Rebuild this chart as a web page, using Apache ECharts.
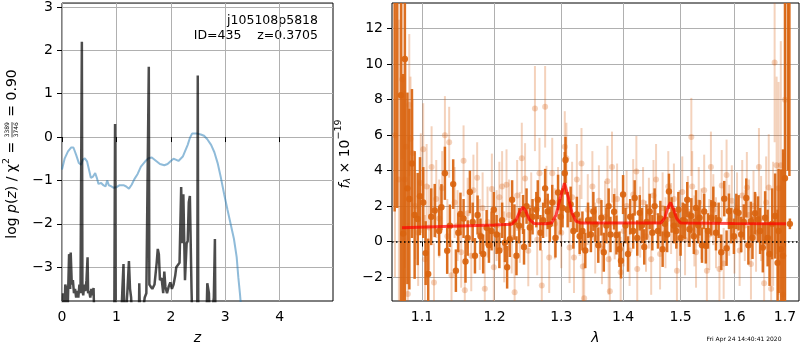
<!DOCTYPE html>
<html>
<head>
<meta charset="utf-8">
<script src="https://cdn.jsdelivr.net/npm/echarts@6/dist/echarts.min.js"></script>
<style>
html, body { margin: 0; padding: 0; background: #fff; }
#main { width: 800px; height: 350px; }
</style>
</head>
<body>
<div id="main"></div>
<script>
// tick positions
var pzTicksX = [0, 1, 2, 3, 4];
var pzTicksY = [-3, -2, -1, 0, 1, 2, 3];
var specTicksX = [1.1, 1.2, 1.3, 1.4, 1.5, 1.6, 1.7];
var specTicksY = [-2, 0, 2, 4, 6, 8, 10, 12];

// left panel: chi2 curve (blue) and log p(z) (dark), [z, value]
var chi2Curve = [
  [0.00, -0.75], [0.05, -0.49], [0.11, -0.33], [0.17, -0.24], [0.21, -0.24], [0.26, -0.41],
  [0.31, -0.60], [0.35, -0.64], [0.38, -0.53], [0.42, -0.49], [0.46, -0.56], [0.49, -0.72],
  [0.53, -0.94], [0.57, -0.91], [0.61, -0.83], [0.64, -0.94], [0.67, -1.08], [0.72, -1.06],
  [0.76, -1.11], [0.80, -1.14], [0.83, -1.00], [0.86, -1.11], [0.90, -1.13], [0.95, -1.17],
  [1.01, -1.15], [1.06, -1.11], [1.13, -1.11], [1.18, -1.14], [1.23, -1.19], [1.28, -1.10],
  [1.33, -0.97], [1.39, -0.85], [1.45, -0.68], [1.53, -0.56], [1.59, -0.49], [1.65, -0.47],
  [1.73, -0.55], [1.80, -0.62], [1.88, -0.65], [1.94, -0.62], [2.00, -0.55], [2.05, -0.50],
  [2.09, -0.52], [2.14, -0.55], [2.17, -0.51], [2.22, -0.45], [2.26, -0.33], [2.31, -0.18],
  [2.35, -0.02], [2.39, 0.08], [2.43, 0.08], [2.49, 0.08], [2.55, 0.06], [2.61, 0.03],
  [2.67, -0.05], [2.74, -0.18], [2.80, -0.35], [2.86, -0.60], [2.92, -0.94], [2.98, -1.32],
  [3.04, -1.67], [3.10, -2.01], [3.16, -2.35], [3.21, -2.77], [3.24, -3.23], [3.27, -3.61],
  [3.29, -3.91]
];
var pzCurve = [
  [0.00, -4.5], [0.02, -3.6], [0.04, -4.5], [0.06, -3.4], [0.08, -3.5], [0.09, -4.5],
  [0.11, -3.7], [0.13, -2.7], [0.14, -2.75], [0.15, -3.5], [0.16, -2.66], [0.18, -3.4],
  [0.20, -3.3], [0.22, -3.6], [0.24, -3.5], [0.26, -3.7], [0.28, -3.55], [0.30, -3.7],
  [0.32, -3.4], [0.34, -3.6], [0.355, -3.6], [0.365, 2.2], [0.375, -3.5], [0.39, -3.65],
  [0.41, -3.4], [0.43, -3.55], [0.45, -3.3], [0.47, -2.77], [0.48, -3.6], [0.50, -3.55],
  [0.52, -3.7], [0.54, -3.5], [0.56, -3.65], [0.58, -3.48], [0.60, -4.5], [0.96, -4.5],
  [0.975, 0.3], [0.985, -4.5], [1.08, -4.5], [1.11, -3.5], [1.13, -2.93], [1.15, -4.5],
  [1.20, -3.6], [1.23, -2.86], [1.25, -3.5], [1.27, -3.7], [1.30, -4.5], [1.41, -4.5],
  [1.42, -3.37], [1.44, -4.5], [1.52, -3.7], [1.55, -3.6], [1.585, -3.6], [1.595, 1.62],
  [1.605, -3.4], [1.63, -3.45], [1.66, -3.5], [1.70, -3.4], [1.74, -2.9], [1.76, -2.58],
  [1.78, -2.7], [1.80, -3.3], [1.83, -3.25], [1.86, -3.6], [1.88, -3.1], [1.90, -3.45],
  [1.93, -3.6], [1.96, -3.45], [1.99, -3.35], [2.02, -3.5], [2.05, -3.4], [2.08, -3.2],
  [2.10, -3.0], [2.13, -2.95], [2.16, -2.9], [2.19, -1.15], [2.21, -2.45], [2.23, -1.32],
  [2.26, -3.3], [2.29, -2.45], [2.31, -2.4], [2.33, -1.5], [2.35, -1.36], [2.38, -3.5],
  [2.40, -4.5], [2.485, -4.5], [2.495, 1.42], [2.505, -4.5], [2.65, -4.5], [2.67, -3.37],
  [2.70, -3.6], [2.72, -4.5], [2.79, -3.7], [2.81, -2.35], [2.82, -4.5]
];

// right panel: best-fit model, [lambda, flux]
var modelLine = [
  [1.074, 0.78], [1.14, 0.86], [1.20, 0.93], [1.225, 0.98], [1.232, 1.25], [1.237, 1.7],
  [1.2415, 1.95], [1.246, 1.7], [1.251, 1.25], [1.258, 1.02], [1.275, 1.0], [1.285, 1.05],
  [1.292, 1.5], [1.298, 2.4], [1.305, 3.3], [1.311, 2.5], [1.317, 1.6], [1.323, 1.15],
  [1.33, 1.05], [1.40, 1.05], [1.465, 1.05], [1.472, 1.35], [1.477, 1.9], [1.482, 2.2],
  [1.487, 1.85], [1.493, 1.3], [1.50, 1.05], [1.60, 1.02], [1.702, 1.0]
];

// spectrum points with errors, [lambda, flux, err]
var specDark = [
  [1.0646, 15.0, 13.3], [1.0679, 16.0, 14.1], [1.0727, 8.25, 12.0], [1.0755, 0.45, 9.0],
  [1.0777, 10.3, 14.0], [1.0810, 3.0, 5.4], [1.0835, 2.4, 5.1], [1.0869, 4.4, 4.2],
  [1.0904, 1.5, 3.6], [1.0944, 1.27, 2.6], [1.0974, 2.56, 2.2], [1.1017, 2.2, 2.0],
  [1.1049, -0.65, 1.8], [1.1083, -1.83, 2.0], [1.1123, 1.4, 1.6], [1.1170, 1.75, 1.5],
  [1.1229, 0.6, 1.4], [1.1260, 1.94, 1.3], [1.1307, 3.85, 1.5], [1.1338, -0.52, 1.3],
  [1.1375, 0.89, 1.2], [1.1420, 3.24, 1.4], [1.1457, -1.64, 1.2], [1.1490, 0.5, 1.1],
  [1.1520, 1.56, 1.2], [1.1563, 1.3, 1.1], [1.1590, -1.12, 1.2], [1.1620, 0.2, 1.0],
  [1.1651, 2.8, 1.2], [1.1690, 1.1, 1.1], [1.1722, -0.8, 1.0], [1.1759, 1.5, 1.1],
  [1.1800, 0.3, 1.0], [1.1838, -0.7, 1.1], [1.1887, 0.78, 1.0], [1.1920, -0.2, 1.0],
  [1.1958, 0.6, 1.1], [1.1990, 1.8, 1.0], [1.2030, 0.4, 1.1], [1.2070, -0.5, 1.0],
  [1.2110, 1.2, 1.0], [1.2150, -0.06, 1.1], [1.2183, -1.45, 1.2], [1.2222, 0.13, 1.0],
  [1.2256, 2.36, 1.1], [1.2290, 1.1, 1.0], [1.2320, -0.8, 1.1], [1.2360, 0.9, 1.0],
  [1.2418, 1.53, 1.1], [1.2432, -0.3, 1.0], [1.2470, 2.0, 1.0], [1.2519, 0.8, 1.1],
  [1.2560, 1.4, 1.0], [1.2617, 1.8, 1.0], [1.2639, 2.36, 1.1], [1.2679, 0.5, 1.0],
  [1.2720, 1.2, 1.0], [1.2751, 3.0, 1.1], [1.2790, 1.7, 1.0], [1.2823, 0.97, 1.0],
  [1.2860, 2.2, 1.0], [1.2910, 0.2, 1.1], [1.2950, 2.77, 1.0], [1.2990, 1.4, 1.0],
  [1.3020, 1.9, 1.1], [1.3055, 3.85, 1.2], [1.3066, 4.6, 1.3], [1.3100, 1.8, 1.0],
  [1.3147, 2.1, 1.0], [1.3190, 0.6, 1.0], [1.3245, 1.53, 1.0], [1.3290, 0.3, 1.0],
  [1.3334, 0.6, 1.1], [1.3380, -0.5, 1.0], [1.3424, 1.2, 1.0], [1.3470, 0.4, 1.0],
  [1.3510, 1.7, 1.1], [1.3544, 0.97, 1.0], [1.3590, -0.2, 1.0], [1.3641, 1.34, 1.0],
  [1.3680, -0.6, 1.1], [1.3723, 0.9, 1.0], [1.3760, 2.0, 1.0], [1.3790, 0.4, 1.0],
  [1.3850, 1.68, 1.0], [1.3889, 0.37, 1.1], [1.3940, -0.43, 1.0], [1.3965, -1.08, 1.0],
  [1.4000, 2.65, 1.1], [1.4040, 0.9, 1.0], [1.4083, -0.7, 1.0], [1.4120, 1.4, 1.0],
  [1.4171, 0.6, 1.0], [1.4196, 2.46, 1.0], [1.4240, 0.2, 1.0], [1.4283, 1.62, 1.0],
  [1.4320, 0.9, 1.0], [1.4360, -0.3, 1.0], [1.4400, 1.1, 1.0], [1.4454, 1.7, 1.0],
  [1.4500, 0.5, 1.0], [1.4540, 2.0, 1.0], [1.4598, 0.6, 1.0], [1.4640, 1.3, 1.0],
  [1.4680, -0.43, 1.0], [1.4720, 1.0, 1.0], [1.4760, 0.4, 1.0], [1.4792, 2.83, 1.0],
  [1.4840, 1.5, 1.0], [1.4880, 0.9, 1.0], [1.4923, 0.6, 1.0], [1.4960, 1.8, 1.0],
  [1.5000, 0.2, 1.0], [1.5040, 1.2, 1.0], [1.5080, 1.15, 1.0], [1.5120, 2.36, 1.0],
  [1.5160, 0.7, 1.0], [1.5194, 1.45, 1.0], [1.5240, 0.3, 1.0], [1.5280, 1.9, 1.0],
  [1.5320, 0.9, 1.0], [1.5345, 1.34, 1.0], [1.5390, -0.2, 1.0], [1.5430, 1.7, 1.0],
  [1.5460, -0.24, 1.0], [1.5500, 0.6, 1.0], [1.5562, 1.34, 1.0], [1.5600, 2.1, 1.0],
  [1.5650, 0.5, 1.0], [1.5700, 1.2, 1.0], [1.5750, -0.6, 1.0], [1.5806, 2.42, 1.0],
  [1.5850, -0.37, 1.0], [1.5895, 1.71, 1.0], [1.5940, 0.9, 1.0], [1.5990, 0.3, 1.0],
  [1.6036, 1.7, 1.0], [1.6080, 1.62, 1.0], [1.6130, 0.4, 1.0], [1.6180, 1.1, 1.0],
  [1.6229, 2.46, 1.1], [1.6270, -0.2, 1.1], [1.6320, 1.15, 1.1], [1.6350, 0.22, 1.2],
  [1.6400, 1.6, 1.2], [1.6460, 1.25, 1.3], [1.6500, 0.6, 1.3], [1.6554, -0.34, 1.4],
  [1.6600, 1.34, 1.5], [1.6650, 0.2, 1.6], [1.6688, -0.7, 1.8], [1.6740, 1.0, 2.0],
  [1.6800, 1.44, 2.4], [1.6850, -1.2, 3.0], [1.6870, 0.6, 3.5], [1.6920, -0.43, 4.5],
  [1.6960, -0.8, 6.0], [1.7000, 3.57, 11.0], [1.7060, 15.0, 11.0], [1.7090, 16.0, 12.3],
  [1.7100, 1.0, 0.3]
];
var specLight = [
  [1.0650, 6.0, 8.0], [1.0700, 3.5, 9.0], [1.0743, 9.15, 4.5], [1.0777, 3.5, 5.0],
  [1.0790, 5.35, 5.0], [1.0815, -2.95, 4.0], [1.0834, 7.7, 4.0], [1.0850, 5.8, 3.5],
  [1.0878, 5.0, 3.0], [1.0910, 2.0, 3.0], [1.0950, 0.5, 3.0], [1.0985, 3.3, 2.8],
  [1.1017, 5.2, 2.6], [1.1040, -1.0, 2.5], [1.1062, 3.1, 2.4], [1.1095, 0.8, 2.4],
  [1.1128, 4.2, 2.3], [1.1160, -2.3, 2.2], [1.1190, 2.4, 2.2], [1.1230, 1.3, 2.2],
  [1.1270, 3.0, 2.1], [1.1307, 6.0, 2.2], [1.1340, 0.3, 2.1], [1.1365, 5.6, 2.0],
  [1.1397, -1.9, 2.0], [1.1440, 2.2, 2.0], [1.1480, 0.9, 2.0], [1.1530, -0.6, 2.0],
  [1.1563, 4.55, 2.0], [1.1580, -2.75, 2.0], [1.1620, 1.6, 2.0], [1.1670, -0.8, 2.0],
  [1.1700, 2.9, 2.0], [1.1753, 3.6, 2.0], [1.1790, 0.4, 2.0], [1.1830, 1.9, 2.0],
  [1.1861, -2.66, 2.0], [1.1900, 1.1, 2.0], [1.1962, 2.96, 2.0], [1.1990, -1.45, 2.0],
  [1.2030, 0.9, 2.0], [1.2070, 2.5, 2.0], [1.2110, 3.1, 2.0], [1.2140, -0.3, 2.0],
  [1.2174, 3.2, 2.0], [1.2210, 1.5, 2.0], [1.2250, 0.2, 2.0], [1.2293, -2.85, 2.0],
  [1.2330, 2.6, 2.0], [1.2370, 0.8, 2.0], [1.2399, 4.7, 2.0], [1.2448, 3.55, 2.0],
  [1.2496, -0.52, 2.0], [1.2540, 1.9, 2.0], [1.2596, 7.5, 2.4], [1.2630, 0.1, 2.0],
  [1.2665, 3.85, 2.0], [1.2700, -2.47, 2.0], [1.2751, 7.6, 2.3], [1.2771, 2.27, 2.0],
  [1.2813, -0.9, 2.0], [1.2860, 3.85, 2.0], [1.2900, 1.0, 2.0], [1.2950, 2.2, 2.0],
  [1.3000, 0.5, 2.0], [1.3055, 5.35, 2.0], [1.3080, 4.7, 2.0], [1.3130, -0.34, 2.0],
  [1.3170, 2.5, 2.0], [1.3200, -0.9, 2.0], [1.3245, 3.5, 2.0], [1.3290, 1.2, 2.0],
  [1.3319, 4.4, 2.0], [1.3340, -1.41, 2.0], [1.3362, -3.2, 2.0], [1.3420, 1.8, 2.0],
  [1.3494, 3.1, 2.0], [1.3540, 0.2, 2.0], [1.3600, 2.3, 2.0], [1.3650, -0.4, 2.0],
  [1.3700, 1.4, 2.0], [1.3740, 3.4, 2.0], [1.3760, -0.99, 2.0], [1.3780, -2.8, 2.0],
  [1.3815, 4.2, 2.0], [1.3860, 1.0, 2.0], [1.3900, 2.4, 2.0], [1.3960, -1.73, 2.0],
  [1.4010, 0.6, 2.0], [1.4060, 2.0, 2.0], [1.4110, -0.5, 2.0], [1.4171, 2.65, 2.0],
  [1.4225, 3.95, 2.0], [1.4240, -1.55, 2.0], [1.4290, 1.1, 2.0], [1.4340, 2.2, 2.0],
  [1.4390, 0.3, 2.0], [1.4440, 1.6, 2.0], [1.4480, -1.0, 2.0], [1.4520, 2.6, 2.0],
  [1.4565, 3.5, 2.0], [1.4635, -0.7, 2.0], [1.4680, 1.9, 2.0], [1.4730, 0.5, 2.0],
  [1.4780, 3.1, 2.0], [1.4830, 1.3, 2.0], [1.4880, 2.4, 2.0], [1.4934, -1.64, 2.0],
  [1.4980, 0.9, 2.0], [1.5030, 2.8, 2.0], [1.5080, 0.1, 2.0], [1.5130, 1.7, 2.0],
  [1.5194, 5.9, 2.2], [1.5210, 3.1, 2.0], [1.5250, 0.6, 2.0], [1.5280, -0.6, 2.0],
  [1.5330, 2.2, 2.0], [1.5380, 1.0, 2.0], [1.5430, 2.9, 2.0], [1.5480, -1.64, 2.0],
  [1.5525, 0.4, 2.0], [1.5555, 4.2, 2.0], [1.5600, 1.8, 2.0], [1.5650, 0.5, 2.0],
  [1.5715, -1.55, 2.0], [1.5758, 3.16, 2.0], [1.5795, -1.23, 2.0], [1.5850, 3.75, 2.0],
  [1.5900, 1.2, 2.0], [1.5950, 2.3, 2.0], [1.6000, 0.2, 2.0], [1.6050, 1.9, 2.0],
  [1.6100, -0.5, 2.0], [1.6150, 2.6, 2.0], [1.6200, 0.9, 2.0], [1.6240, 3.05, 2.0],
  [1.6280, 1.5, 2.0], [1.6320, -1.27, 2.0], [1.6370, 2.0, 2.0], [1.6420, 0.5, 2.2],
  [1.6477, 4.2, 2.2], [1.6520, 1.3, 2.4], [1.6580, -2.35, 2.5], [1.6620, 2.2, 2.6],
  [1.6672, 3.05, 3.0], [1.6720, -2.66, 3.0], [1.6760, 1.0, 3.5], [1.6790, 10.1, 4.5],
  [1.6830, 4.3, 5.0], [1.6870, 3.0, 6.0], [1.6915, 4.3, 7.0], [1.6960, -3.0, 8.0],
  [1.7000, 8.0, 9.0]
];

var chartDom = document.getElementById('main');
var myChart = echarts.init(chartDom, null, { renderer: 'canvas' });

var ctx = document.createElement('canvas').getContext('2d');
function textWidth(s, font) {
  ctx.font = font;
  return ctx.measureText(s).width;
}
var F14 = '14px "DejaVu Sans"';
var F14I = 'italic 14px "DejaVu Sans"';
var F9 = '9.5px "DejaVu Sans"';
var F9I = 'italic 9.5px "DejaVu Sans"';
var FFRAC = '6px "DejaVu Sans"';

function txt(s, font, x, y, align) {
  return {
    type: 'text', x: x, y: y, silent: true,
    style: { text: s, font: font, fill: '#000', align: align, verticalAlign: 'middle' }
  };
}

// rotated (bottom-to-top) axis label built from pieces
function rotLabel(cx, cy, parts) {
  var x = 0, kids = [];
  parts.forEach(function (p) {
    if (p.frac) {
      var w = Math.max(textWidth(p.frac[0], p.font), textWidth(p.frac[1], p.font));
      kids.push(txt(p.frac[0], p.font, x + w / 2, -4.5, 'center'));
      kids.push(txt(p.frac[1], p.font, x + w / 2, 4.5, 'center'));
      kids.push({ type: 'line', silent: true, shape: { x1: x, y1: 0, x2: x + w, y2: 0 }, style: { stroke: '#000', lineWidth: 0.7 } });
      x += w + 1;
    } else {
      kids.push(txt(p.t, p.font, x, p.dy || 0, 'left'));
      x += textWidth(p.t, p.font);
    }
  });
  return { type: 'group', x: cx, y: cy + x / 2, rotation: Math.PI / 2, children: kids };
}

function minusFmt(v) {
  return String(v).replace('-', '\u2212');
}

function makeAxis(o) {
  return {
    type: o.type || 'value',
    gridIndex: o.grid,
    min: o.min,
    max: o.max,
    name: o.name,
    nameLocation: 'middle',
    nameGap: o.nameGap,
    nameTextStyle: { fontFamily: 'DejaVu Sans', fontSize: 14, fontStyle: 'italic', color: '#000' },
    axisLine: { show: false },
    axisTick: { show: true, inside: false, length: 5, lineStyle: { color: '#000', width: 1 }, customValues: o.ticks },
    axisLabel: { color: '#000', fontSize: 14, fontFamily: 'DejaVu Sans', margin: o.margin, customValues: o.ticks, formatter: o.fmt },
    splitLine: { show: true, lineStyle: { color: '#b0b0b0', width: 1 } }
  };
}

function errRender(color, opacity, lw, r) {
  return function (params, api) {
    var x = api.value(0), y = api.value(1), e = api.value(2);
    var top = api.coord([x, y + e]);
    var bot = api.coord([x, y - e]);
    var mid = api.coord([x, y]);
    return {
      type: 'group',
      children: [
        { type: 'line', shape: { x1: top[0], y1: top[1], x2: bot[0], y2: bot[1] }, style: { stroke: color, lineWidth: lw, opacity: opacity } },
        { type: 'circle', shape: { cx: mid[0], cy: mid[1], r: r }, style: { fill: color, opacity: opacity } }
      ]
    };
  };
}

var leftLabel = rotLabel(12, 154, [
  { t: 'log ', font: F14 }, { t: 'p', font: F14I }, { t: '(', font: F14 }, { t: 'z', font: F14I },
  { t: ') / \u03c7', font: F14 }, { t: '2', font: F9, dy: -5 }, { t: ' = ', font: F14 },
  { frac: ['3389', '3746'], font: FFRAC }, { t: ' = 0.90', font: F14 }
]);
var rightLabel = rotLabel(345, 154, [
  { t: 'f', font: F14I }, { t: '\u03bb', font: F9I, dy: 3 }, { t: ' \u00d7 10', font: F14 },
  { t: '\u221219', font: F9, dy: -6 }
]);

var option = {
  animation: false,
  backgroundColor: '#fff',
  grid: [
    { left: 62, top: 3, width: 271, height: 301, show: true, borderColor: '#000', borderWidth: 1 },
    { left: 392, top: 3, width: 407, height: 301, show: true, borderColor: '#000', borderWidth: 1 }
  ],
  xAxis: [
    makeAxis({ grid: 0, min: 0, max: 4.98, ticks: pzTicksX, margin: 9, fmt: minusFmt, name: 'z', nameGap: 30 }),
    makeAxis({ grid: 1, type: 'log', min: 1.0612, max: 1.7288, ticks: specTicksX, margin: 9,
      fmt: function (v) { return Number(v).toFixed(1); }, name: '\u03bb', nameGap: 30 })
  ],
  yAxis: [
    makeAxis({ grid: 0, min: -3.78, max: 3.09, ticks: pzTicksY, margin: 9, fmt: minusFmt }),
    makeAxis({ grid: 1, min: -3.35, max: 13.45, ticks: specTicksY, margin: 9, fmt: minusFmt })
  ],
  graphic: [
    txt('j105108p5818', '12.5px "DejaVu Sans"', 318, 21, 'right'),
    txt('ID=435    z=0.3705', '12.5px "DejaVu Sans"', 318, 36, 'right'),
    txt('Fri Apr 24 14:40:41 2020', '6px "DejaVu Sans"', 744, 339, 'center'),
    leftLabel,
    rightLabel
  ],
  series: [
    {
      type: 'line', xAxisIndex: 0, yAxisIndex: 0, data: chi2Curve, symbol: 'none', silent: true, clip: true,
      lineStyle: { color: '#1f77b4', opacity: 0.5, width: 2 }
    },
    {
      type: 'line', xAxisIndex: 0, yAxisIndex: 0, data: pzCurve, symbol: 'none', silent: true, clip: true,
      lineStyle: { color: '#000', opacity: 0.7, width: 2.5 }
    },
    {
      type: 'custom', xAxisIndex: 1, yAxisIndex: 1, data: specLight, clip: true, silent: true,
      renderItem: errRender('#d95f0e', 0.28, 2, 3)
    },
    {
      type: 'custom', xAxisIndex: 1, yAxisIndex: 1, data: specDark, clip: true, silent: true,
      renderItem: errRender('#d9640f', 0.92, 2.5, 3.2)
    },
    {
      type: 'line', xAxisIndex: 1, yAxisIndex: 1, data: modelLine, symbol: 'none', silent: true, clip: true,
      lineStyle: { color: '#ff0000', opacity: 0.7, width: 3 }
    },
    {
      type: 'line', xAxisIndex: 1, yAxisIndex: 1, data: [], silent: true,
      markLine: {
        silent: true, symbol: ['none', 'none'], label: { show: false },
        lineStyle: { color: '#000', type: [1.5, 2.5], width: 1.5 },
        data: [{ yAxis: 0 }]
      }
    }
  ]
};

option && myChart.setOption(option);
</script>
</body>
</html>
